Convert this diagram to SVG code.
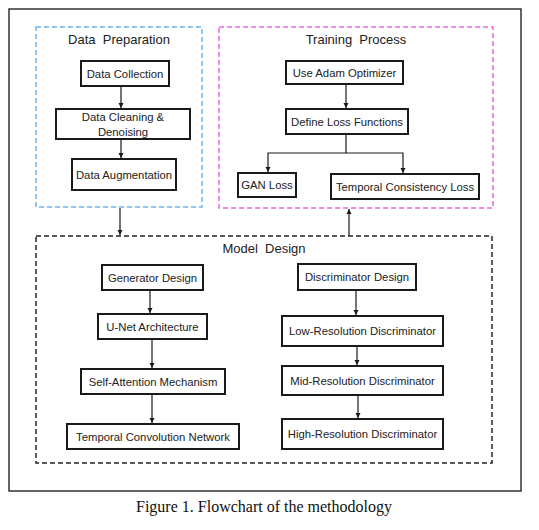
<svg xmlns="http://www.w3.org/2000/svg" width="539" height="530" viewBox="0 0 539 530">
<style>
.node{fill:#fff;stroke:#1a1a1a;stroke-width:2}
.t{font-family:"Liberation Sans",Arial,sans-serif;font-size:11.3px;fill:#222;text-anchor:middle;dominant-baseline:central}
.title{font-family:"Liberation Sans",Arial,sans-serif;font-size:13px;fill:#222;text-anchor:middle;dominant-baseline:central}
.c{fill:none;stroke:#1a1a1a;stroke-width:1.2}
.grp{fill:none;stroke-width:1.5;stroke-dasharray:5 3}
</style>
<defs>
<marker id="ah" viewBox="0 0 10 10" refX="10" refY="5" markerWidth="5" markerHeight="6" markerUnits="userSpaceOnUse" orient="auto">
<path d="M0,0 L10,5 L0,10 z" fill="#1a1a1a"/>
</marker>
</defs>
<rect width="539" height="530" fill="#fff"/>
<rect x="9" y="9" width="512" height="482" fill="none" stroke="#333" stroke-width="1.5"/>

<g id="data-preparation">
<rect class="grp" x="36" y="27" width="166" height="180" stroke="#6fb4f5"/>
<text class="title" x="119" y="39" xml:space="preserve">Data  Preparation</text>
</g>
<g id="training-process">
<rect class="grp" x="219" y="27" width="274" height="181" stroke="#f065e8"/>
<text class="title" x="356" y="39" xml:space="preserve">Training  Process</text>
</g>
<g id="model-design">
<rect class="grp" x="36" y="236" width="456" height="227" stroke="#222"/>
<text class="title" x="264" y="248" xml:space="preserve">Model  Design</text>
</g>

<g id="data-collection"><rect class="node" x="81" y="61" width="88" height="25"/><text class="t" x="125" y="73.5">Data Collection</text></g>
<g id="data-cleaning"><rect class="node" x="56" y="109" width="134" height="30"/><text class="t" x="123" y="117">Data Cleaning &amp;</text><text class="t" x="123" y="131.5">Denoising</text></g>
<g id="data-augmentation"><rect class="node" x="72" y="159" width="104" height="31"/><text class="t" x="124" y="174.5">Data Augmentation</text></g>

<g id="adam"><rect class="node" x="286" y="61" width="117" height="23"/><text class="t" x="344.5" y="72.5">Use Adam Optimizer</text></g>
<g id="loss-functions"><rect class="node" x="286" y="109" width="122" height="25"/><text class="t" x="347" y="121.5">Define Loss Functions</text></g>
<g id="gan-loss"><rect class="node" x="238" y="173" width="58" height="24"/><text class="t" x="267" y="185">GAN Loss</text></g>
<g id="temporal-loss"><rect class="node" x="331" y="174" width="148" height="25"/><text class="t" x="405" y="186.5">Temporal Consistency Loss</text></g>

<g id="generator-design"><rect class="node" x="102" y="265" width="101" height="25"/><text class="t" x="152.5" y="277.5">Generator Design</text></g>
<g id="unet"><rect class="node" x="98" y="314" width="109" height="25"/><text class="t" x="152.5" y="326.5">U-Net Architecture</text></g>
<g id="self-attention"><rect class="node" x="81" y="369" width="144" height="25"/><text class="t" x="153" y="381.5">Self-Attention Mechanism</text></g>
<g id="tcn"><rect class="node" x="67" y="424" width="172" height="25"/><text class="t" x="153" y="436.5">Temporal Convolution Network</text></g>

<g id="discriminator-design"><rect class="node" x="298" y="264" width="118" height="26"/><text class="t" x="357" y="277">Discriminator Design</text></g>
<g id="low-res"><rect class="node" x="282" y="316" width="161" height="30"/><text class="t" x="362.5" y="331">Low-Resolution Discriminator</text></g>
<g id="mid-res"><rect class="node" x="282" y="366" width="161" height="29"/><text class="t" x="362.5" y="380.5">Mid-Resolution Discriminator</text></g>
<g id="high-res"><rect class="node" x="282" y="419" width="161" height="30"/><text class="t" x="362.5" y="434">High-Resolution Discriminator</text></g>

<g id="connectors">
<line class="c" x1="121" y1="87" x2="121" y2="108" marker-end="url(#ah)"/>
<line class="c" x1="121" y1="139" x2="121" y2="158" marker-end="url(#ah)"/>
<line class="c" x1="346" y1="85" x2="346" y2="108" marker-end="url(#ah)"/>
<polyline class="c" points="346,134 346,153 268,153 268,172" marker-end="url(#ah)"/>
<polyline class="c" points="346,153 403,153 403,173" marker-end="url(#ah)"/>
<line class="c" x1="120" y1="208" x2="120" y2="235" marker-end="url(#ah)"/>
<line class="c" x1="349" y1="236" x2="349" y2="209" marker-end="url(#ah)"/>
<line class="c" x1="150" y1="291" x2="150" y2="313" marker-end="url(#ah)"/>
<line class="c" x1="152" y1="340" x2="152" y2="368" marker-end="url(#ah)"/>
<line class="c" x1="152" y1="395" x2="152" y2="423" marker-end="url(#ah)"/>
<line class="c" x1="356" y1="291" x2="356" y2="315" marker-end="url(#ah)"/>
<line class="c" x1="357" y1="347" x2="357" y2="365" marker-end="url(#ah)"/>
<line class="c" x1="358" y1="396" x2="358" y2="418" marker-end="url(#ah)"/>
</g>

<text x="264" y="512" font-family="'Liberation Serif','Times New Roman',serif" font-size="16" fill="#111" text-anchor="middle">Figure 1. Flowchart of the methodology</text>
</svg>
